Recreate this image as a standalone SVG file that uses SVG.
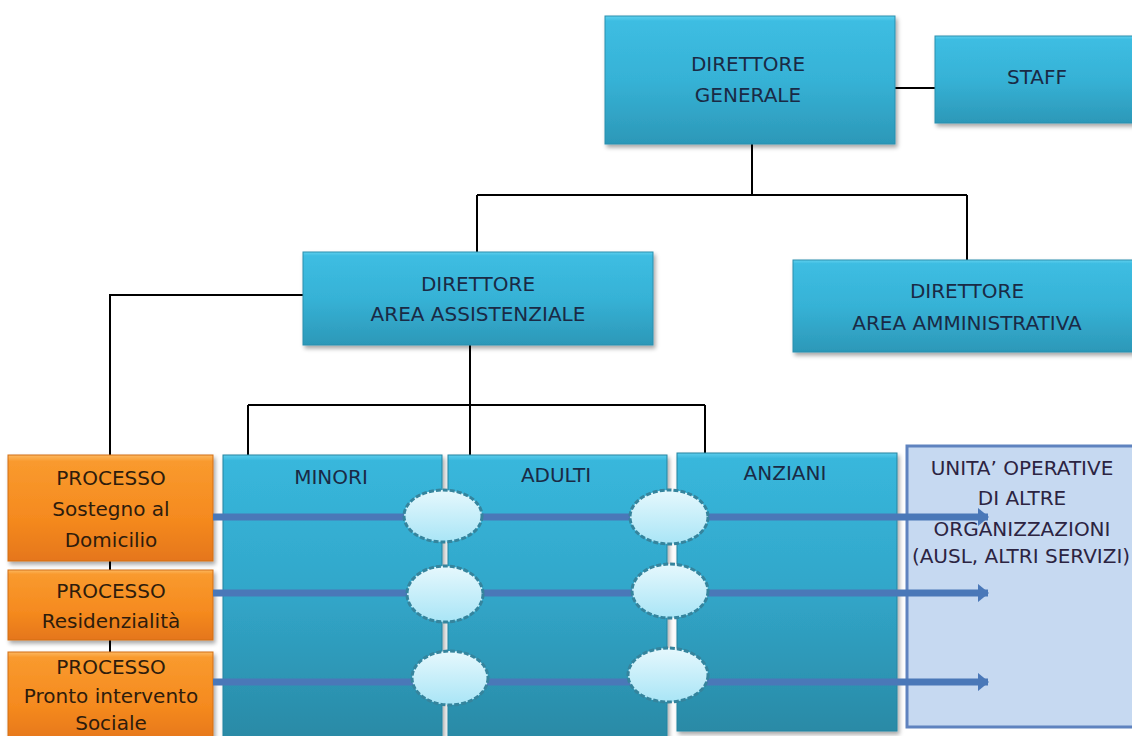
<svg xmlns="http://www.w3.org/2000/svg" width="1132" height="736" viewBox="0 0 1132 736">
<defs>
<linearGradient id="gBlue" x1="0" y1="0" x2="0" y2="1">
<stop offset="0" stop-color="#5fd0ee"/>
<stop offset="0.04" stop-color="#3dbde2"/>
<stop offset="0.5" stop-color="#36b2d6"/>
<stop offset="1" stop-color="#2c98b8"/>
</linearGradient>
<linearGradient id="gCol" x1="0" y1="0" x2="0" y2="1">
<stop offset="0" stop-color="#5cccec"/>
<stop offset="0.02" stop-color="#38b7dc"/>
<stop offset="0.5" stop-color="#31a6c9"/>
<stop offset="1" stop-color="#2a8aa6"/>
</linearGradient>
<linearGradient id="gOrange" x1="0" y1="0" x2="0" y2="1">
<stop offset="0" stop-color="#fcb860"/>
<stop offset="0.06" stop-color="#f99a2e"/>
<stop offset="0.6" stop-color="#f58a1f"/>
<stop offset="1" stop-color="#e5761a"/>
</linearGradient>
<linearGradient id="gEll" x1="0" y1="0" x2="0" y2="1">
<stop offset="0" stop-color="#e6f8fd"/>
<stop offset="1" stop-color="#a9e5f6"/>
</linearGradient>
<filter id="sh" x="-10%" y="-10%" width="120%" height="130%">
<feDropShadow dx="2" dy="3" stdDeviation="2" flood-color="#000" flood-opacity="0.35"/>
</filter>
<marker id="ah" viewBox="0 0 10 10" refX="9" refY="5" markerWidth="1.6" markerHeight="2.6" preserveAspectRatio="none" markerUnits="strokeWidth" orient="auto">
<path d="M0,0 L10,5 L0,10 z" fill="#4a78b8"/>
</marker>
<style>
.bbox{fill:url(#gBlue);stroke:#2a8fae;stroke-width:1;filter:url(#sh)}
.col{fill:url(#gCol);stroke:#2784a0;stroke-width:1;filter:url(#sh)}
.obox{fill:url(#gOrange);stroke:#d26f15;stroke-width:1;filter:url(#sh)}
.t{font-family:"DejaVu Sans","Liberation Sans",sans-serif;font-size:20px;text-anchor:middle;fill:#1a2a45}
.to{font-family:"DejaVu Sans","Liberation Sans",sans-serif;font-size:20px;text-anchor:middle;fill:#2e1c0c}
.tu{font-family:"DejaVu Sans","Liberation Sans",sans-serif;font-size:20px;text-anchor:middle;fill:#2c2442}
.ln{fill:none;stroke:#000;stroke-width:2}
.arr{fill:none;stroke:#4a78b8;stroke-width:7;marker-end:url(#ah)}
.ell{fill:url(#gEll);stroke:#35849d;stroke-width:3;stroke-dasharray:5 2}
</style>
</defs>
<rect width="1132" height="736" fill="#ffffff"/>

<g id="connectors">
<path class="ln" d="M752,144 V195"/>
<path class="ln" d="M477,195 H967"/>
<path class="ln" d="M477,195 V252"/>
<path class="ln" d="M967,195 V260"/>
<path class="ln" d="M895,88 H935"/>
<path class="ln" d="M303,295 H110 V736"/>
<path class="ln" d="M470,345 V405"/>
<path class="ln" d="M248,405 H705"/>
<path class="ln" d="M248,405 V455"/>
<path class="ln" d="M470,405 V455"/>
<path class="ln" d="M705,405 V455"/>
</g>

<g id="dg">
<rect class="bbox" x="605" y="16" width="290" height="128"/>
<text class="t" x="748" y="71">DIRETTORE</text>
<text class="t" x="748" y="102">GENERALE</text>
</g>
<g id="staff">
<rect class="bbox" x="935" y="36" width="200" height="87"/>
<text class="t" x="1037" y="84">STAFF</text>
</g>
<g id="daa">
<rect class="bbox" x="303" y="252" width="350" height="93"/>
<text class="t" x="478" y="291">DIRETTORE</text>
<text class="t" x="478" y="321">AREA ASSISTENZIALE</text>
</g>
<g id="dam">
<rect class="bbox" x="793" y="260" width="345" height="92"/>
<text class="t" x="967" y="298">DIRETTORE</text>
<text class="t" x="967" y="330">AREA AMMINISTRATIVA</text>
</g>

<g id="unita">
<rect x="907" y="446" width="230" height="281" fill="#c6d9f1" stroke="#5f83bf" stroke-width="3"/>
<text class="tu" x="1022" y="475">UNITA’ OPERATIVE</text>
<text class="tu" x="1022" y="505">DI ALTRE</text>
<text class="tu" x="1022" y="536">ORGANIZZAZIONI</text>
<text class="tu" x="1021" y="563">(AUSL, ALTRI SERVIZI)</text>
</g>

<g id="minori">
<rect class="col" x="223" y="455" width="219" height="282"/>
<text class="t" x="331" y="484">MINORI</text>
</g>
<g id="adulti">
<rect class="col" x="448" y="455" width="219" height="282"/>
<text class="t" x="556" y="482">ADULTI</text>
</g>
<g id="anziani">
<rect class="col" x="677" y="453" width="220" height="278"/>
<text class="t" x="785" y="480">ANZIANI</text>
</g>

<g id="p1">
<rect class="obox" x="8" y="455" width="205" height="106"/>
<text class="to" x="111" y="485">PROCESSO</text>
<text class="to" x="111" y="516">Sostegno al</text>
<text class="to" x="111" y="547">Domicilio</text>
</g>
<g id="p2">
<rect class="obox" x="8" y="570" width="205" height="70"/>
<text class="to" x="111" y="598">PROCESSO</text>
<text class="to" x="111" y="628">Residenzialità</text>
</g>
<g id="p3">
<rect class="obox" x="8" y="652" width="205" height="90"/>
<text class="to" x="111" y="674">PROCESSO</text>
<text class="to" x="111" y="703">Pronto intervento</text>
<text class="to" x="111" y="730">Sociale</text>
</g>

<g id="flows">
<path class="arr" d="M213,517 H988"/>
<path class="arr" d="M213,593 H988"/>
<path class="arr" d="M213,682 H988"/>
</g>

<g id="nodes-ellipses">
<ellipse class="ell" cx="443" cy="516" rx="39" ry="26"/>
<ellipse class="ell" cx="669" cy="517" rx="39" ry="27"/>
<ellipse class="ell" cx="445" cy="594" rx="38" ry="28"/>
<ellipse class="ell" cx="670" cy="591" rx="38" ry="27"/>
<ellipse class="ell" cx="450" cy="678" rx="38" ry="27"/>
<ellipse class="ell" cx="668" cy="675" rx="40" ry="27"/>
</g>
</svg>
